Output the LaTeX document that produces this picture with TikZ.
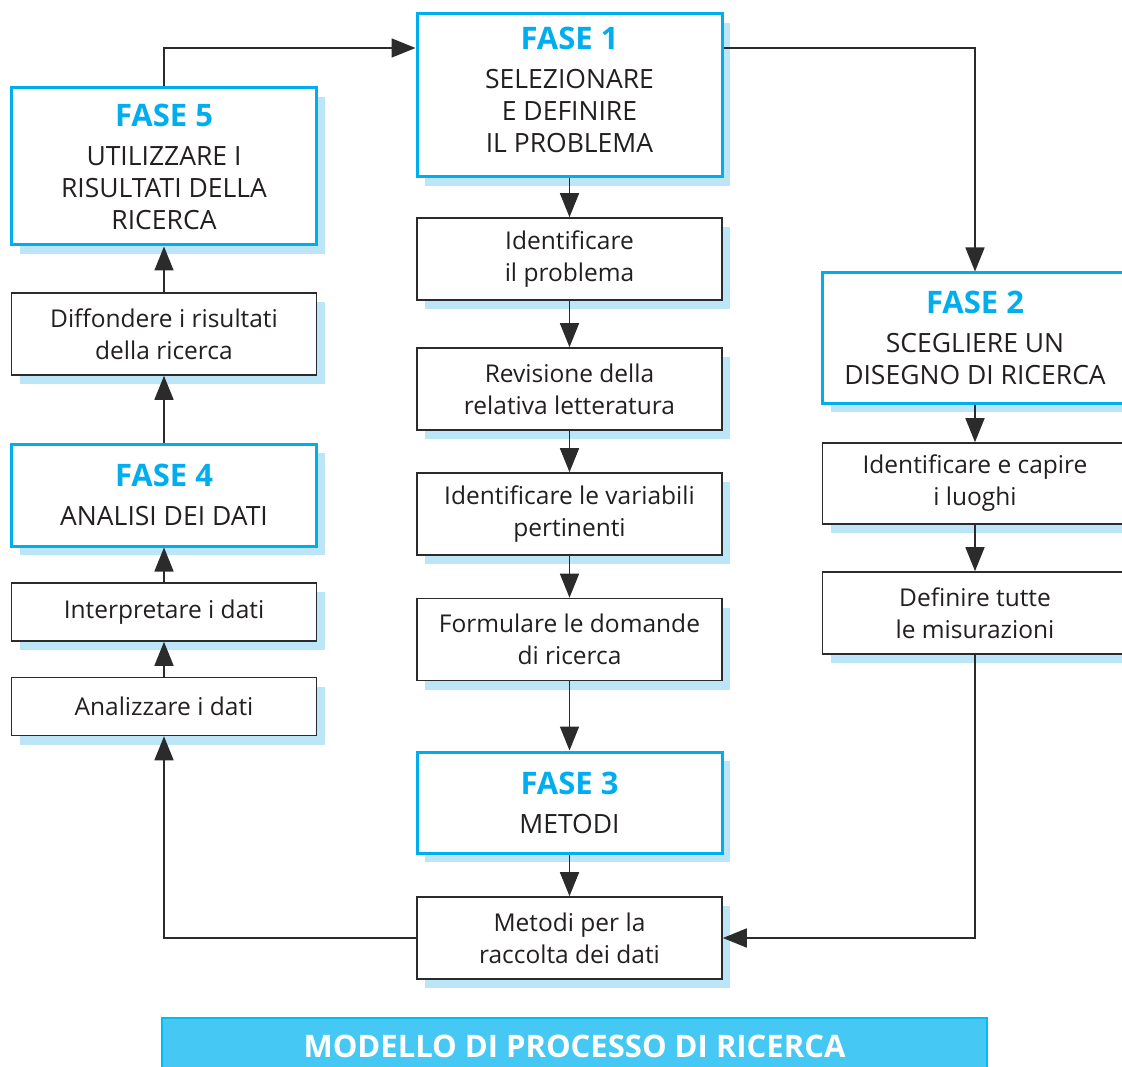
\documentclass[tikz,border=0pt]{standalone}
\usepackage{fontspec}
\setmainfont{Open Sans}
\usetikzlibrary{arrows.meta,shadows}
\definecolor{fasecyan}{HTML}{00AEEF}
\definecolor{ombra}{HTML}{BDE5F8}
\definecolor{fascia}{HTML}{45C8F4}
\definecolor{bordofascia}{HTML}{00BEF2}
\definecolor{linea}{HTML}{2B2B2B}
\definecolor{testo}{HTML}{231F20}
\newcommand{\fase}[1]{{\fontsize{31}{32}\selectfont\bfseries\color{fasecyan}#1}\\[7pt]}
\begin{document}
\begin{tikzpicture}[x=1pt,y=-1pt,
    box/.style={draw=linea,line width=1.6pt,fill=white,text=testo,align=center,
        minimum width=305pt,inner sep=0pt,font=\fontsize{24.5}{32}\selectfont,
        drop shadow={shadow xshift=8pt,shadow yshift=-9pt,fill=ombra,opacity=1}},
    fasebox/.style={box,draw=fasecyan,line width=3pt,font=\fontsize{26.5}{32}\selectfont},
    banner/.style={fill=fascia,draw=bordofascia,line width=2pt,minimum width=825pt,
        minimum height=56pt,text=white,font=\fontsize{31}{32}\selectfont\bfseries},
    arr/.style={draw=linea,line width=1.6pt,-{Triangle[length=24pt,width=19pt]}}]
    \useasboundingbox (0,0) rectangle (1122,1067);
    \clip (0,0) rectangle (1122,1067);
    % colonna di sinistra
    \node[fasebox,minimum height=157pt] (f5) at (164,166.5) {\fase{FASE 5}UTILIZZARE I\\RISULTATI DELLA\\RICERCA};
    \node[box,minimum height=82pt] (diff) at (164,334) {Diffondere i risultati\\della ricerca};
    \node[fasebox,minimum height=102pt] (f4) at (164,495) {\fase{FASE 4}ANALISI DEI DATI};
    \node[box,minimum height=58pt] (interp) at (164,612) {Interpretare i dati};
    \node[box,minimum height=58pt] (analiz) at (164,706.5) {Analizzare i dati};
    % colonna centrale
    \node[fasebox,minimum height=163pt] (f1) at (569.5,95.5) {\fase{FASE 1}SELEZIONARE\\E DEFINIRE\\IL PROBLEMA\\[-20pt]\mbox{}};
    \node[box,minimum height=82pt] (idprob) at (569.5,259) {Identificare\\il problema};
    \node[box,minimum height=82pt] (revis) at (569.5,389) {Revisione della\\relativa letteratura};
    \node[box,minimum height=82pt] (variab) at (569.5,514) {Identificare le variabili\\pertinenti};
    \node[box,minimum height=82pt] (formul) at (569.5,639.5) {Formulare le domande\\di ricerca};
    \node[fasebox,minimum height=101pt] (f3) at (569.5,802.5) {\fase{FASE 3}METODI};
    \node[box,minimum height=82pt] (metodi) at (569.5,938) {Metodi per la\\raccolta dei dati};
    % colonna di destra
    \node[fasebox,minimum height=130pt] (f2) at (975,338) {\fase{FASE 2}SCEGLIERE UN\\DISEGNO DI RICERCA};
    \node[box,minimum height=81pt] (luoghi) at (975,483.5) {Identificare e capire\\i luoghi};
    \node[box,minimum height=82pt] (misur) at (975,613) {Definire tutte\\le misurazioni};
    \node[banner] (titolo) at (574.5,1046) {MODELLO DI PROCESSO DI RICERCA};
    \coordinate (alto) at (0,48);
    \draw[arr] (f5.north) |- (f1.west |- alto);
    \draw[arr] (f1.east |- alto) -| (f2.north);
    \draw[arr] (f1) -- (idprob);
    \draw[arr] (idprob) -- (revis);
    \draw[arr] (revis) -- (variab);
    \draw[arr] (variab) -- (formul);
    \draw[arr] (formul) -- (f3);
    \draw[arr] (f3) -- (metodi);
    \draw[arr] (f2) -- (luoghi);
    \draw[arr] (luoghi) -- (misur);
    \draw[arr] (misur.south) |- (metodi.east);
    \draw[arr] (metodi.west) -| (analiz.south);
    \draw[arr] (analiz) -- (interp);
    \draw[arr] (interp) -- (f4);
    \draw[arr] (f4) -- (diff);
    \draw[arr] (diff) -- (f5);
\end{tikzpicture}
\end{document}
